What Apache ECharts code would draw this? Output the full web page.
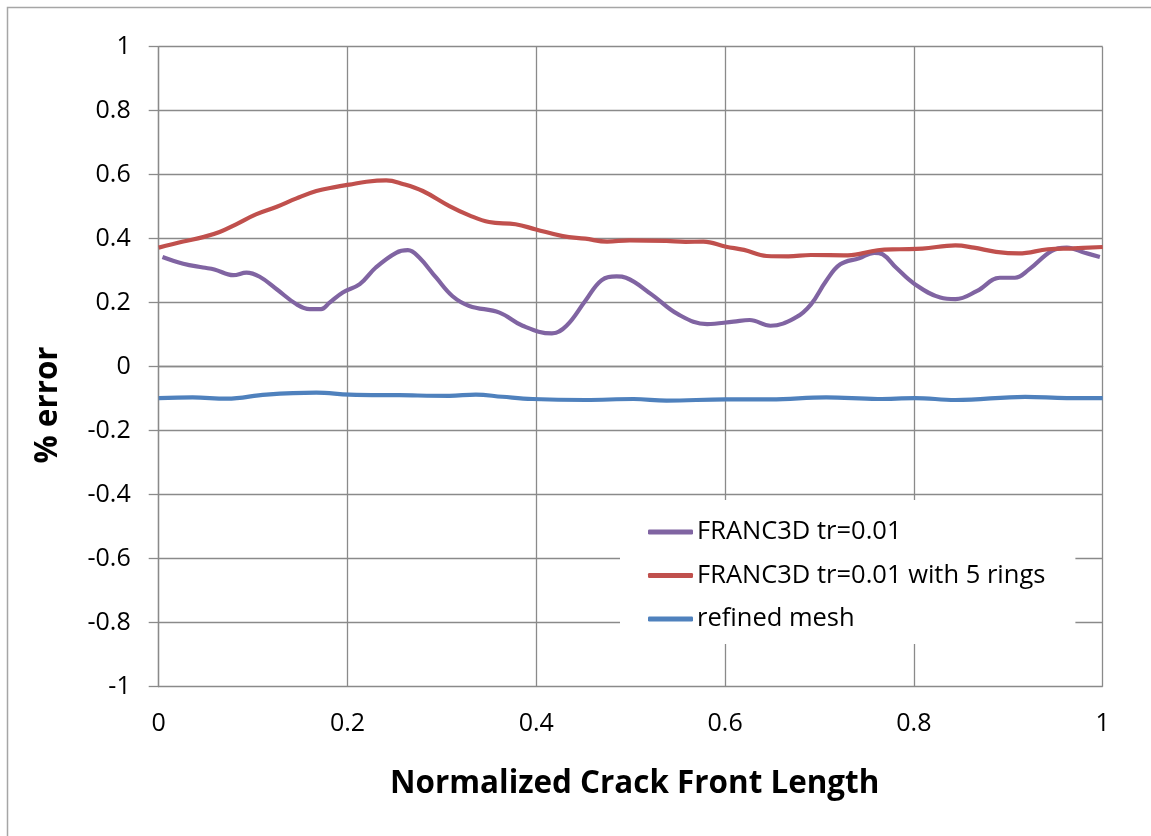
<!DOCTYPE html>
<html>
<head>
<meta charset="utf-8">
<script src="https://cdn.jsdelivr.net/npm/echarts@6/dist/echarts.min.js"></script>
<style>
  html, body { margin: 0; padding: 0; background: #ffffff; }
  #chart { width: 1151px; height: 836px; }
</style>
</head>
<body>
<div id="chart"></div>
<script>
// Series names
const seriesNames = ['FRANC3D tr=0.01', 'FRANC3D tr=0.01 with 5 rings', 'refined mesh'];

// FRANC3D tr=0.01
const purpleX = [0.004, 0.026, 0.047, 0.059, 0.079, 0.093, 0.107, 0.125, 0.146, 0.160, 0.172, 0.181, 0.195, 0.213, 0.230, 0.2515, 0.264, 0.276, 0.294, 0.311, 0.329, 0.361, 0.3855, 0.4165, 0.432, 0.452, 0.469, 0.485, 0.495, 0.522, 0.550, 0.581, 0.609, 0.626, 0.648, 0.675, 0.691, 0.707, 0.722, 0.742, 0.758, 0.767, 0.781, 0.801, 0.828, 0.844, 0.867, 0.891, 0.907, 0.922, 0.946, 0.962, 0.981, 0.997];
const purpleY = [0.343, 0.322, 0.310, 0.304, 0.286, 0.294, 0.281, 0.242, 0.195, 0.180, 0.180, 0.200, 0.232, 0.258, 0.310, 0.356, 0.364, 0.341, 0.278, 0.221, 0.190, 0.169, 0.128, 0.104, 0.128, 0.206, 0.270, 0.282, 0.278, 0.226, 0.164, 0.133, 0.141, 0.146, 0.128, 0.154, 0.195, 0.268, 0.320, 0.339, 0.356, 0.351, 0.310, 0.258, 0.216, 0.211, 0.237, 0.278, 0.278, 0.304, 0.362, 0.372, 0.356, 0.343];

// FRANC3D tr=0.01 with 5 rings
const redX = [0.0, 0.026, 0.047, 0.0645, 0.082, 0.103, 0.1245, 0.146, 0.167, 0.188, 0.202, 0.220, 0.241, 0.2585, 0.2797, 0.308, 0.329, 0.350, 0.378, 0.3997, 0.428, 0.452, 0.475, 0.499, 0.538, 0.558, 0.577, 0.601, 0.620, 0.644, 0.667, 0.691, 0.730, 0.7616, 0.785, 0.809, 0.844, 0.8635, 0.887, 0.911, 0.942, 0.969, 1.0];
const redY = [0.372, 0.391, 0.405, 0.421, 0.445, 0.476, 0.499, 0.526, 0.549, 0.562, 0.569, 0.578, 0.582, 0.571, 0.549, 0.502, 0.473, 0.452, 0.445, 0.429, 0.408, 0.400, 0.391, 0.395, 0.393, 0.390, 0.391, 0.375, 0.365, 0.346, 0.345, 0.349, 0.348, 0.364, 0.367, 0.369, 0.379, 0.372, 0.359, 0.354, 0.367, 0.370, 0.374];

// refined mesh
const blueX = [0.0, 0.036, 0.072, 0.114, 0.167, 0.202, 0.255, 0.308, 0.336, 0.364, 0.396, 0.452, 0.503, 0.538, 0.601, 0.648, 0.707, 0.7616, 0.801, 0.844, 0.918, 0.962, 1.0];
const blueY = [-0.098, -0.096, -0.100, -0.087, -0.081, -0.087, -0.089, -0.091, -0.087, -0.094, -0.101, -0.104, -0.101, -0.106, -0.102, -0.102, -0.096, -0.101, -0.098, -0.104, -0.094, -0.098, -0.098];

const colors = ['#8064A2', '#C0504D', '#4F81BD'];
const FONT = '"Open Sans", sans-serif';

function pairs(xs, ys) {
  return xs.map((x, i) => [x, ys[i]]);
}

const chart = echarts.init(document.getElementById('chart'), null, { renderer: 'canvas' });

const gridColor = '#8a8a8a';

function lineSeries(i, xs, ys) {
  return {
    name: seriesNames[i], type: 'line', data: pairs(xs, ys),
    smooth: 0.4, showSymbol: false, symbol: 'none',
    lineStyle: { color: colors[i], width: 4.2 }, itemStyle: { color: colors[i] }
  };
}

chart.setOption({
  animation: false,
  backgroundColor: '#ffffff',
  grid: { left: 158.7, right: 48.3, top: 46.7, bottom: 149.3, containLabel: false },
  xAxis: {
    type: 'value',
    min: 0, max: 1, interval: 0.2,
    name: 'Normalized Crack Front Length',
    nameLocation: 'middle',
    nameGap: 82,
    nameTextStyle: { fontFamily: FONT, fontWeight: 'bold', fontSize: 31.4, color: '#000', padding: [0, 0, 0, 8] },
    axisLine: { show: true, lineStyle: { color: gridColor, width: 1.3 } },
    axisTick: { show: false },
    axisLabel: { fontFamily: FONT, fontSize: 25, color: '#000', margin: 25 },
    splitLine: { show: true, lineStyle: { color: gridColor, width: 1.3 } }
  },
  yAxis: {
    type: 'value',
    min: -1, max: 1, interval: 0.2,
    axisLine: { show: true, lineStyle: { color: gridColor, width: 1.3 } },
    axisTick: { show: true, inside: false, length: 10, lineStyle: { color: gridColor, width: 1.3 } },
    axisLabel: { fontFamily: FONT, fontSize: 25, color: '#000', margin: 28 },
    splitLine: { show: true, lineStyle: { color: gridColor, width: 1.3 } }
  },
  legend: {
    orient: 'vertical',
    left: 620,
    top: 500,
    width: 460,
    padding: [19, 30, 12, 28],
    backgroundColor: '#ffffff',
    itemWidth: 45,
    itemHeight: 5,
    itemGap: 17.5,
    icon: 'roundRect',
    textStyle: { fontFamily: FONT, fontSize: 25.5, color: '#000', padding: [0, 0, 0, -1] },
    data: seriesNames
  },
  graphic: [
    {
      type: 'polyline',
      silent: true,
      shape: { points: [[7.5, 836], [7.5, 7.5], [1151, 7.5]] },
      style: { stroke: '#a6a6a6', lineWidth: 1.5, fill: null }
    },
    {
      // vertical axis title
      type: 'text',
      silent: true,
      x: 48,
      y: 405,
      rotation: Math.PI / 2,
      style: {
        text: '% error',
        fontFamily: FONT,
        fontWeight: 'bold',
        fontSize: 31.4,
        fill: '#000',
        align: 'center',
        verticalAlign: 'middle'
      }
    }
  ],
  series: [
    lineSeries(0, purpleX, purpleY),
    lineSeries(1, redX, redY),
    lineSeries(2, blueX, blueY)
  ]
});
</script>
</body>
</html>
